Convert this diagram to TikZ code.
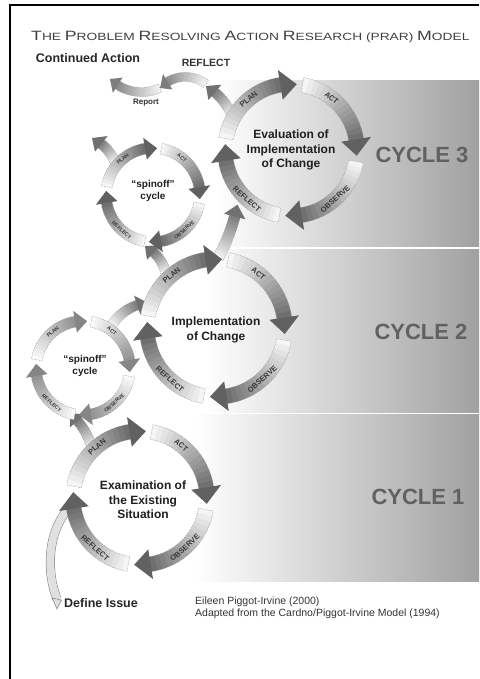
\documentclass[tikz,border=0pt]{standalone}
\usepackage{fontspec}
\setmainfont{Liberation Sans}

\tikzset{
  ringline/.style={draw=black!40, line width=0.35pt, dash pattern=on 1.5pt off 1pt},
  bigtext/.style={font=\bfseries\fontsize{12}{14.5}\selectfont, align=center, text=black!88},
  spintext/.style={font=\bfseries\fontsize{10}{12.5}\selectfont, align=center, text=black!88},
  cyclename/.style={font=\bfseries\fontsize{22}{24}\selectfont, text=black!62},
  band/.style={left color=white, right color=black!37},
  sidetext/.style={font=\bfseries\fontsize{12.5}{14}\selectfont, text=black!85},
  credit/.style={font=\fontsize{10.5}{12}\selectfont, text=black!80, inner sep=0pt, anchor=west},
}

% shaded arrow along an arc: centre, radius, width, start angle, tip angle, light, dark
\newcommand\ringarrow[7]{%
  \begin{scope}[shift={(#1)}]
    \pgfmathsetmacro\rgsg{ifthenelse(#4>#5,1,-1)}
    \pgfmathsetmacro\rgah{#5+\rgsg*1.1*#3*57.3/#2}
    \pgfmathsetmacro\rgri{#2-#3/2}
    \pgfmathsetmacro\rgro{#2+#3/2}
    \pgfmathsetmacro\rgd{(#4-\rgah)/16}
    \foreach \i in {0,...,15}{
      \pgfmathsetmacro\rga{#4-\i*\rgd}
      \pgfmathsetmacro\rgb{#4-(\i+1)*\rgd-\rgsg*0.5}
      \pgfmathsetmacro\rgp{#6+(#7-#6)*\i/15}
      \fill[black!\rgp] (\rga:\rgri) arc[start angle=\rga, end angle=\rgb, radius=\rgri]
        -- (\rgb:\rgro) arc[start angle=\rgb, end angle=\rga, radius=\rgro] -- cycle;
    }
    \draw[ringline] (\rgah:\rgri) arc[start angle=\rgah, end angle=#4, radius=\rgri]
      -- (#4:\rgro) arc[start angle=#4, end angle=\rgah, radius=\rgro];
    \pgfmathsetmacro\rghi{#2-#3}
    \pgfmathsetmacro\rgho{#2+#3}
    \pgfmathsetmacro\rgp{#7+6}
    \fill[black!\rgp] (\rgah:\rghi) -- (#5:#2) -- (\rgah:\rgho) -- cycle;
  \end{scope}}

% one plan-act-observe-reflect ring: name, radius, width, light, dark, label size
\newcommand\prarcycle[6]{%
  \ringarrow{#1}{#2}{#3}{170}{85}{#4}{#5}
  \ringarrow{#1}{#2}{#3}{80}{-5}{#4}{#5}
  \ringarrow{#1}{#2}{#3}{-10}{-95}{#4}{#5}
  \ringarrow{#1}{#2}{#3}{-100}{-185}{#4}{#5}
  \begin{scope}[shift={(#1)}, every node/.style={font=\bfseries\fontsize{#6}{#6}\selectfont, text=black!78, inner sep=0pt}]
    \node[rotate=40] (#1-plan) at (130:#2) {PLAN};
    \node[rotate=-40] (#1-act) at (52:#2) {ACT};
    \node[rotate=42] (#1-observe) at (-48:#2) {OBSERVE};
    \node[rotate=-42] (#1-reflect) at (-132:#2) {REFLECT};
  \end{scope}}

\newcommand\bigc[1]{{\fontsize{13.5}{14}\selectfont #1}}

\begin{document}
\begin{tikzpicture}[x=1pt, y=1pt]
\useasboundingbox (0,0) rectangle (479,679);

% bands
\shade[band] (215,432) rectangle (479,598);
\shade[band] (205,266) rectangle (479,429);
\shade[band] (195,97) rectangle (479,264);
\draw[line width=1.3pt] (10,0) -- (10,674) -- (479,674);

\coordinate (c3) at (291,529);
\coordinate (c2) at (216,351);
\coordinate (c1) at (140,181);
\coordinate (s3) at (153,484);
\coordinate (s2) at (83,311);

% define issue
\draw[black!50, line width=0.5pt, double=black!12, double distance=8pt]
  (57,80) .. controls (47,105) and (45,150) .. (74,176);
\filldraw[fill=black!12, draw=black!50, line width=0.5pt] (52.3,81) -- (61.5,79) -- (57,70) -- cycle;

% links between the rings
\ringarrow{22.1,211.5}{72.5}{10}{15.6}{48.7}{5}{50}
\ringarrow{151.9,329.2}{47}{10}{148.1}{94.8}{5}{50}
\ringarrow{125,396}{42}{10}{14}{61.6}{5}{50}
\ringarrow{55.1,510.7}{186}{11}{-28.8}{-11.3}{5}{50}
\ringarrow{71.4,498.2}{47.5}{10}{23.3}{64.3}{5}{50}
\ringarrow{173.2,537.4}{64.5}{10}{24.3}{59.5}{5}{50}
\ringarrow{141.4,631.2}{44.3}{9}{-65.2}{-135.2}{5}{45}
\ringarrow{185.2,568}{34.1}{9}{52.4}{137.6}{5}{45}

% rings
\prarcycle{c1}{67}{15}{4}{56}{7.5}
\prarcycle{c2}{69}{15}{4}{56}{7.5}
\prarcycle{c3}{66}{15}{4}{56}{7.5}
\prarcycle{s2}{47}{11}{2}{42}{5.2}
\prarcycle{s3}{47}{11}{4}{56}{5.2}

% texts
\node[bigtext] (c3-text) at (c3) {Evaluation of\\Implementation\\of Change};
\node[bigtext] (c2-text) at ([yshift=-2]c2) {Implementation\\of Change};
\node[bigtext] (c1-text) at ([xshift=3,yshift=-2]c1) {Examination of\\the Existing\\Situation};
\node[spintext] (s3-text) at ([yshift=4]s3) {“spinoff”\\cycle};
\node[spintext] (s2-text) at ([xshift=2,yshift=2]s2) {“spinoff”\\cycle};

\node[cyclename] (cycle3) at (422,524) {CYCLE 3};
\node[cyclename] (cycle2) at (421,347) {CYCLE 2};
\node[cyclename] (cycle1) at (418,182) {CYCLE 1};

\node[anchor=west, inner sep=0pt, text=black!75] (title) at (31,642)
  {\scalebox{1.31}[1]{\fontsize{10.5}{12}\selectfont\bigc{T}HE \bigc{P}ROBLEM \bigc{R}ESOLVING \bigc{A}CTION \bigc{R}ESEARCH (PRAR) \bigc{M}ODEL}};
\node[sidetext] (continued) at (88,621) {Continued Action};
\node[font=\bfseries\fontsize{10.5}{12}\selectfont, text=black!80] (reflect) at (206,616) {REFLECT};
\node[font=\bfseries\fontsize{8}{9}\selectfont, text=black!80] (report) at (146,576) {Report};
\node[sidetext] (define) at (101,76) {Define Issue};

\node[credit] (credit1) at (195,77) {Eileen Piggot-Irvine (2000)};
\node[credit] (credit2) at (195,65) {Adapted from the Cardno/Piggot-Irvine Model (1994)};
\end{tikzpicture}
\end{document}
